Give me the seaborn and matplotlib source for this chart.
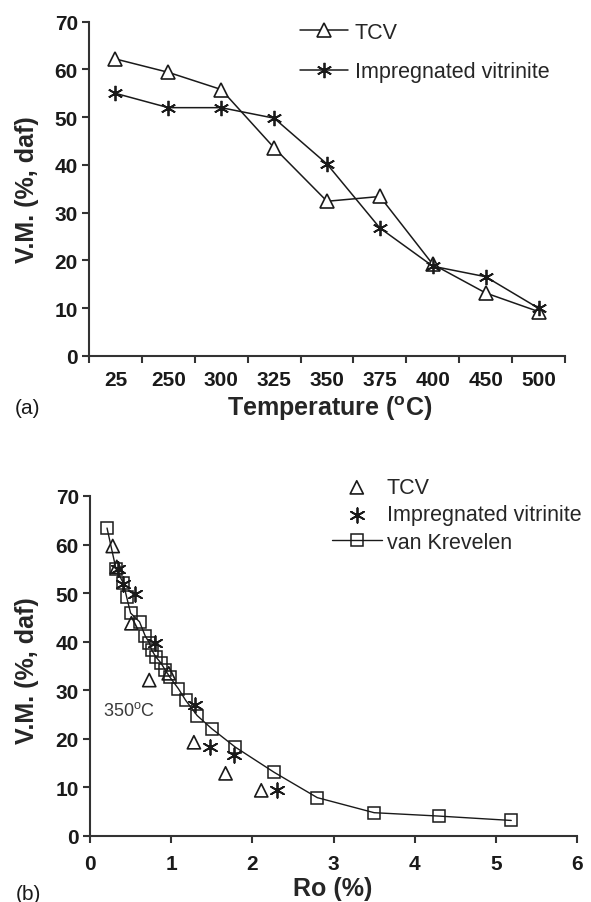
import numpy as np
import pandas as pd
import matplotlib
matplotlib.use("Agg")
import matplotlib.pyplot as plt
import seaborn as sns

# ---------------- data ----------------
temps = ["25", "250", "300", "325", "350", "375", "400", "450", "500"]
tcv_vm = [62.2, 59.4, 55.8, 43.6, 32.4, 33.4, 19.2, 13.2, 9.3]
imp_vm = [55.0, 52.0, 52.0, 49.8, 40.2, 26.8, 18.8, 16.6, 10.0]

tcv_ro = [0.28, 0.33, 0.51, 0.73, 0.97, 1.28, 1.67, 2.11]
tcv_ro_vm = [59.7, 55.4, 43.8, 32.1, 33.5, 19.3, 12.9, 9.4]
imp_ro = [0.35, 0.41, 0.55, 0.80, 1.29, 1.48, 1.77, 2.31]
imp_ro_vm = [55.0, 51.9, 49.8, 39.8, 27.0, 18.4, 16.7, 9.4]
vk_ro = [0.21, 0.32, 0.41, 0.45, 0.50, 0.61, 0.68, 0.73, 0.76, 0.81, 0.87,
         0.93, 0.98, 1.09, 1.18, 1.32, 1.50, 1.79, 2.27, 2.80, 3.50, 4.30, 5.19]
vk_vm = [63.4, 55.0, 52.1, 49.3, 45.9, 44.1, 41.2, 39.8, 38.3, 36.9, 35.7,
         34.1, 32.8, 30.3, 27.9, 24.8, 22.1, 18.3, 13.1, 7.9, 4.8, 4.1, 3.2]

# ---------------- style ----------------
sns.set_theme(style="ticks")
plt.rcParams["font.family"] = ["Liberation Sans", "DejaVu Sans"]
plt.rcParams["mathtext.fontset"] = "custom"
plt.rcParams["mathtext.rm"] = "Liberation Sans"
plt.rcParams["mathtext.bf"] = "Liberation Sans:bold"
plt.rcParams["axes.linewidth"] = 1.5
plt.rcParams["axes.edgecolor"] = "#333333"
plt.rcParams["xtick.color"] = "#333333"
plt.rcParams["ytick.color"] = "#333333"
plt.rcParams["xtick.labelcolor"] = "#1a1a1a"
plt.rcParams["ytick.labelcolor"] = "#1a1a1a"

K = "#1a1a1a"
AST = (6, 2, 0)
TICK_FS = 15
LAB_FS = 18

fig = plt.figure(figsize=(5.91, 9.03), dpi=100)
W, H = 591, 903
ax1 = fig.add_axes([89 / W, 1 - 357 / H, 476 / W, 334.3 / H])
ax2 = fig.add_axes([90 / W, 1 - 837 / H, 487 / W, 340 / H])

# ---------------- top panel ----------------
df_top = pd.DataFrame({"pos": np.arange(len(temps)) + 0.5,
                       "TCV": tcv_vm, "Imp": imp_vm})
sns.lineplot(data=df_top, x="pos", y="TCV", ax=ax1, color=K, lw=1.1,
             marker="^", markersize=10, markerfacecolor="white",
             markeredgecolor=K, markeredgewidth=1.2, label="TCV", clip_on=False)
sns.lineplot(data=df_top, x="pos", y="Imp", ax=ax1, color=K, lw=1.1,
             marker=AST, markersize=11, markeredgecolor=K,
             markeredgewidth=1.3, label="Impregnated vitrinite", clip_on=False)

ax1.set_xlim(0, len(temps))
ax1.set_ylim(0, 70)
ax1.set_xticks(np.arange(len(temps) + 1))
ax1.set_xticklabels([])
ax1.set_xticks(np.arange(len(temps)) + 0.5, minor=True)
ax1.set_xticklabels(temps, minor=True)
ax1.tick_params(axis="x", which="minor", length=0, pad=10,
                labelsize=TICK_FS)
ax1.tick_params(axis="x", which="major", length=5, width=1.5)
ax1.set_yticks(np.arange(0, 71, 10))
ax1.tick_params(axis="y", length=5, width=1.5, pad=3, labelsize=TICK_FS)
for t in ax1.get_xticklabels(minor=True) + ax1.get_yticklabels():
    t.set_fontweight("bold")
sns.despine(ax=ax1)

ax1.set_xlabel(r"Temperature ($\mathbf{^o}$C)", fontsize=LAB_FS,
               fontweight="bold", va="center")
ax1.xaxis.set_label_coords((330 - 89) / 476, (357 - 409) / 334.3)
ax1.set_ylabel("V.M. (%, daf)", fontsize=LAB_FS, fontweight="bold",
               va="center")
ax1.yaxis.set_label_coords((27 - 89) / 476, 0.5)

ax1.legend(loc="upper left", bbox_to_anchor=(300 / W, 1 - 23 / H),
           bbox_transform=fig.transFigure, frameon=False, fontsize=15.5,
           handlelength=2.25, handletextpad=0.3, labelspacing=0.85,
           borderpad=0, borderaxespad=0)

# ---------------- bottom panel ----------------
df_vk = pd.DataFrame({"Ro": vk_ro, "VM": vk_vm})
df_tcv = pd.DataFrame({"Ro": tcv_ro, "VM": tcv_ro_vm})
df_imp = pd.DataFrame({"Ro": imp_ro, "VM": imp_ro_vm})

sns.lineplot(data=df_vk, x="Ro", y="VM", ax=ax2, color=K, lw=1.0,
             marker="s", markersize=8.5, markerfacecolor="none",
             markeredgecolor=K, markeredgewidth=1.1, label="van Krevelen")
sns.scatterplot(data=df_tcv, x="Ro", y="VM", ax=ax2, marker="^", s=90,
                facecolor="none", edgecolor=K, linewidth=1.2, label="TCV")
sns.scatterplot(data=df_imp, x="Ro", y="VM", ax=ax2, marker=AST, s=110,
                color=K, linewidth=1.3, label="Impregnated vitrinite")

ax2.text(0.16, 26.0, "350$^{\\rm o}$C", fontsize=13, color="#3a3a3a",
         ha="left", va="center")

ax2.set_xlim(0, 6)
ax2.set_ylim(0, 70)
ax2.set_xticks(np.arange(0, 7, 1))
ax2.set_yticks(np.arange(0, 71, 10))
ax2.tick_params(axis="both", length=5, width=1.5, labelsize=TICK_FS)
ax2.tick_params(axis="x", pad=8)
ax2.tick_params(axis="y", pad=3)
for t in ax2.get_xticklabels() + ax2.get_yticklabels():
    t.set_fontweight("bold")
sns.despine(ax=ax2)

ax2.set_xlabel("Ro (%)", fontsize=LAB_FS, fontweight="bold", va="center")
ax2.xaxis.set_label_coords((333 - 90) / 487, (837 - 889) / 340)
ax2.set_ylabel("V.M. (%, daf)", fontsize=LAB_FS, fontweight="bold",
               va="center")
ax2.yaxis.set_label_coords((27 - 90) / 487, 0.49)

handles, labels = ax2.get_legend_handles_labels()
order = ["TCV", "Impregnated vitrinite", "van Krevelen"]
hmap = dict(zip(labels, handles))
ax2.legend([hmap[o] for o in order], order, loc="upper left",
           bbox_to_anchor=(332 / W, 1 - 478 / H),
           bbox_transform=fig.transFigure, frameon=False, fontsize=15.5,
           handlelength=2.3, handletextpad=0.25, labelspacing=0.3,
           borderpad=0, borderaxespad=0, scatterpoints=1)

fig.text(27 / W, 1 - 408 / H, "(a)", fontsize=15, ha="center", va="center",
         color=K)
fig.text(28 / W, 1 - 895 / H, "(b)", fontsize=15, ha="center", va="center",
         color=K)

fig.savefig("out.png", dpi=100, facecolor="white")
